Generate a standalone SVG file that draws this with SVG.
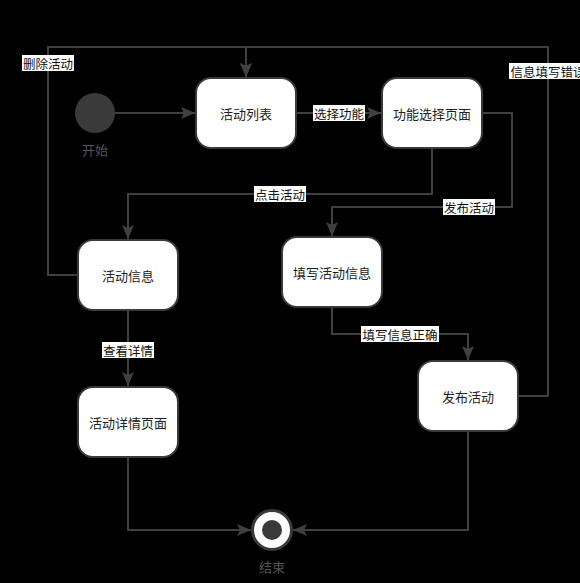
<svg xmlns="http://www.w3.org/2000/svg" width="580" height="583" viewBox="0 0 580 583">
<defs>
<style>
.bg{fill:#000}
.node rect{fill:#fff;stroke:#3a3a3a;stroke-width:2}
.node text{font-family:"Noto Sans CJK SC","Noto Sans",sans-serif;font-size:13px;fill:#222;text-anchor:middle;dominant-baseline:central}
.cap{font-family:"Noto Sans CJK SC","Noto Sans",sans-serif;font-size:13px;fill:#555;text-anchor:middle;dominant-baseline:central}
.edge{fill:none;stroke:#404040;stroke-width:2;marker-end:url(#arr)}
.lbl rect{fill:#fff}
.lbl text{font-family:"Noto Sans CJK SC","Noto Sans",sans-serif;font-size:12.5px;fill:#111;text-anchor:middle;dominant-baseline:central}
</style>
<marker id="arr" markerUnits="userSpaceOnUse" markerWidth="16" markerHeight="14" refX="14" refY="6" orient="auto">
<path d="M0,0 L14,6 L0,12 L3,6 z" fill="#404040"/>
</marker>
</defs>
<rect class="bg" x="0" y="0" width="580" height="583"/>

<g id="connectors">
<path class="edge" d="M115,113 H195"/>
<path class="edge" d="M296,113 H381"/>
<path class="edge" d="M432,148 V194 H128 V239"/>
<path class="edge" d="M482,113 H512 V207 H332 V236"/>
<path class="edge" d="M78,275 H48 V47 H246 V77"/>
<path class="edge" d="M518,396 H548 V47 H246 V77"/>
<path class="edge" d="M128,310 V386"/>
<path class="edge" d="M332,307 V334 H468 V360"/>
<path class="edge" d="M128,457 V530 H251"/>
<path class="edge" d="M468,431 V530 H293"/>
</g>

<g id="labels">
<g class="lbl"><rect x="22" y="55" width="52" height="16"/><text x="48" y="63">删除活动</text></g>
<g class="lbl"><rect x="313" y="105" width="52" height="16"/><text x="339" y="113">选择功能</text></g>
<g class="lbl"><rect x="509" y="63" width="78" height="16"/><text x="548" y="71">信息填写错误</text></g>
<g class="lbl"><rect x="254" y="186" width="52" height="16"/><text x="280" y="194">点击活动</text></g>
<g class="lbl"><rect x="443" y="199" width="52" height="16"/><text x="469" y="207">发布活动</text></g>
<g class="lbl"><rect x="102" y="342" width="52" height="16"/><text x="128" y="350">查看详情</text></g>
<g class="lbl"><rect x="361" y="326" width="78" height="16"/><text x="400" y="334">填写信息正确</text></g>
</g>

<g id="start">
<circle cx="95" cy="113" r="20" fill="#3a3a3a"/>
<text class="cap" x="95" y="149">开始</text>
</g>

<g id="n-list" class="node"><rect x="196" y="78" width="100" height="70" rx="15"/><text x="246" y="113">活动列表</text></g>
<g id="n-func" class="node"><rect x="382" y="78" width="100" height="70" rx="15"/><text x="432" y="113">功能选择页面</text></g>
<g id="n-info" class="node"><rect x="78" y="240" width="100" height="70" rx="15"/><text x="128" y="275">活动信息</text></g>
<g id="n-fill" class="node"><rect x="282" y="237" width="100" height="70" rx="15"/><text x="332" y="272">填写活动信息</text></g>
<g id="n-detail" class="node"><rect x="78" y="387" width="100" height="70" rx="15"/><text x="128" y="422">活动详情页面</text></g>
<g id="n-publish" class="node"><rect x="418" y="361" width="100" height="70" rx="15"/><text x="468" y="396">发布活动</text></g>

<g id="end">
<circle cx="272" cy="530" r="19.5" fill="#fff" stroke="#3a3a3a" stroke-width="3"/>
<circle cx="272" cy="530" r="10" fill="#3a3a3a"/>
<text class="cap" x="272" y="566">结束</text>
</g>
</svg>
